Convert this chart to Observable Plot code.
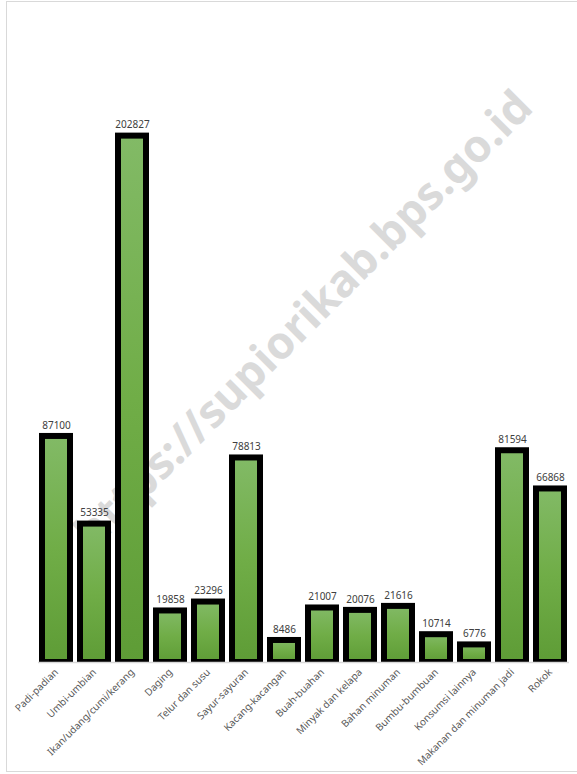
<!DOCTYPE html>
<html>
<head>
<meta charset="utf-8">
<script src="https://cdn.jsdelivr.net/npm/d3@7"></script>
<script src="https://cdn.jsdelivr.net/npm/@observablehq/plot@0.6"></script>
<style>
  html, body { margin: 0; padding: 0; background: #fff; }
  #wrap { position: relative; width: 577px; height: 774px; overflow: hidden; }
  #border { position: absolute; left: 6px; top: 1px; width: 600px; height: 771px;
            border: 1px solid #d9d9d9; pointer-events: none; box-sizing: border-box; }
</style>
</head>
<body>
<div id="wrap"><div id="border"></div></div>
<script>
// Pengeluaran per kapita menurut kelompok komoditas
const categories = [
  "Padi-padian", "Umbi-umbian", "Ikan/udang/cumi/kerang", "Daging", "Telur dan susu",
  "Sayur-sayuran", "Kacang-kacangan", "Buah-buahan", "Minyak dan kelapa", "Bahan minuman",
  "Bumbu-bumbuan", "Konsumsi lainnya", "Makanan dan minuman jadi", "Rokok"
];
const values = [87100, 53335, 202827, 19858, 23296, 78813, 8486, 21007, 20076, 21616, 10714, 6776, 81594, 66868];
const watermark = "https://supiorikab.bps.go.id";

const rows = categories.map((c, i) => ({category: c, value: values[i]}));

// vertical green gradient shared by every bar
function gradientDefs() {
  const ns = "http://www.w3.org/2000/svg";
  const defs = document.createElementNS(ns, "defs");
  const g = document.createElementNS(ns, "linearGradient");
  g.setAttribute("id", "barGreen");
  g.setAttribute("x1", "0"); g.setAttribute("y1", "0");
  g.setAttribute("x2", "0"); g.setAttribute("y2", "1");
  [["0%", "#82ba66"], ["50%", "#70ad47"], ["100%", "#5e9c36"]].forEach(([o, c]) => {
    const s = document.createElementNS(ns, "stop");
    s.setAttribute("offset", o);
    s.setAttribute("stop-color", c);
    g.appendChild(s);
  });
  defs.appendChild(g);
  return defs;
}

const chart = Plot.plot({
  width: 577,
  height: 774,
  marginLeft: 38,
  marginRight: 8,
  marginTop: 117,
  marginBottom: 112,
  style: {fontFamily: "'Noto Sans', sans-serif", fontSize: "10px", background: "transparent"},
  x: {domain: categories, paddingInner: 0.26, paddingOuter: 0.1, label: null},
  y: {domain: [0, 210000], axis: null},
  marks: [
    gradientDefs,
    Plot.text([watermark], {
      frameAnchor: "middle", dx: 0, dy: -70, rotate: -45,
      fontSize: 45, fontWeight: "bold", fill: "#dadada"
    }),
    Plot.barY(rows, {
      x: "category", y: "value",
      fill: "url(#barGreen)", stroke: "#000", strokeWidth: 6,
      clip: "frame"
    }),
    Plot.ruleY([0], {stroke: "#d9d9d9", strokeWidth: 1.5}),
    Plot.text(rows, {
      x: "category", y: "value", text: d => String(d.value),
      dy: -11, fill: "#404040", fontSize: 10
    }),
    Plot.axisX({
      tickRotate: -45, tickSize: 0, tickPadding: 8,
      fill: "#595959", fontSize: 10, label: null
    })
  ]
});

document.getElementById("wrap").insertBefore(chart, document.getElementById("border"));
</script>
</body>
</html>
